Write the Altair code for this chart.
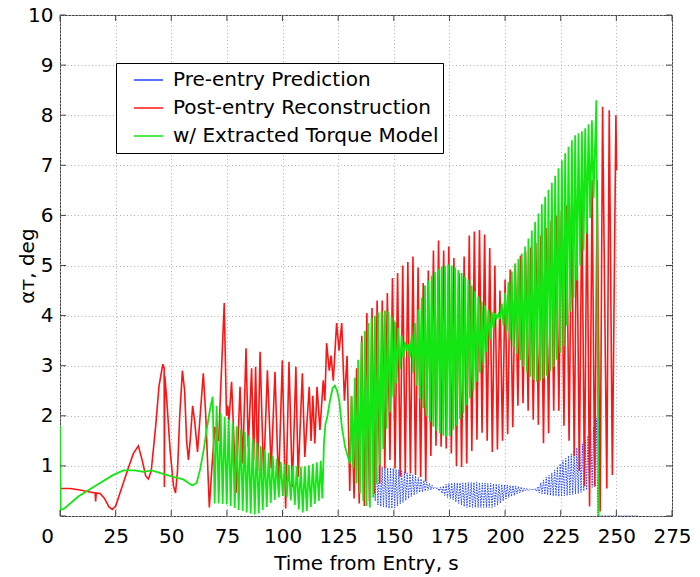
import altair as alt
import pandas as pd

# ---------------- data ----------------
series_names = ["Pre-entry Prediction", "Post-entry Reconstruction", "w/ Extracted Torque Model"]
series_colors = ["#2244ff", "#ff1414", "#14e614"]

x_ticks = [0, 25, 50, 75, 100, 125, 150, 175, 200, 225, 250, 275]
y_ticks = [0, 1, 2, 3, 4, 5, 6, 7, 8, 9, 10]

# --- Post-entry Reconstruction (red) ---
red_early_t = [0.0, 4.5, 9.0, 13.5, 15.8, 16.0, 16.3, 18.0, 20.0, 22.0, 23.5, 25.0, 28.0, 31.0, 33.0,
               35.2, 37.0, 38.5, 39.7, 41.0, 43.0, 44.5, 46.2, 46.8, 46.9, 47.1, 48.0, 49.5, 51.0, 51.9,
               52.8, 53.8, 55.0, 56.0, 56.9, 57.7, 58.5, 59.6, 60.5, 61.8, 62.8, 64.4, 65.5, 67.1]
red_early_v = [0.55, 0.55, 0.52, 0.48, 0.46, 0.29, 0.46, 0.45, 0.35, 0.18, 0.13, 0.2, 0.6, 1.0, 1.25,
               1.4, 1.1, 0.8, 0.74, 0.9, 1.8, 2.6, 3.03, 2.95, 0.58, 2.8, 2.3, 1.3, 0.6, 0.46,
               0.9, 2.0, 2.9, 2.5, 1.5, 1.12, 1.5, 2.2, 1.9, 1.28, 1.9, 2.85, 2.0, 0.17]
red_mid_t = [68.3, 69.6, 70.5, 71.3, 72.0, 73.8, 74.8, 75.4, 75.9, 77.1, 79.1, 80.9, 82.1, 83.6, 84.6,
             86.1, 87.0, 87.9, 88.8, 89.9, 91.5, 93.2, 94.9, 96.6, 98.2, 99.9, 101.4, 102.9, 104.4, 106.0,
             107.0, 108.9, 110.0, 112.0, 112.8, 113.6, 114.5, 115.5, 116.8, 118.3, 119.0, 119.8, 121.0,
             121.8, 122.8, 124.3, 125.4, 126.6, 127.8, 129.0, 130.2]
red_mid_v = [1.0, 1.78, 1.6, 1.5, 2.3, 4.25, 2.0, 2.2, 1.9, 2.68, 0.46, 2.58, 1.05, 3.35, 1.38,
             2.95, 1.1, 2.98, 0.9, 3.28, 0.78, 2.91, 0.95, 2.88, 0.6, 3.11, 0.15, 3.08, 0.58, 2.98,
             0.78, 2.85, 1.18, 2.58, 1.5, 2.4, 1.45, 2.58, 1.72, 2.71, 2.3, 3.45, 2.9,
             3.2, 2.7, 3.85, 3.3, 3.85, 2.3, 3.2, 0.5]
red_peak_t = [131.0, 133.3, 135.6, 137.9, 140.2, 142.5, 144.8, 147.1, 149.4, 151.7, 154.0, 156.3, 158.6,
              160.9, 163.2, 165.5, 167.8, 170.1, 172.4, 174.7, 177.0, 179.3, 181.6, 183.9, 186.2, 188.5,
              190.8, 193.1, 195.4, 197.7, 200.0, 202.3, 204.6, 206.9, 209.2, 211.5, 213.8, 216.1, 218.4,
              220.7, 223.0, 225.3, 227.6, 229.9, 232.2, 234.5, 236.8, 239.1, 241.4]
red_peak_v = [2.38, 2.95, 3.6, 4.05, 4.15, 4.3, 4.3, 4.45, 4.75, 4.85, 5.0, 5.07, 5.18,
              4.96, 4.65, 4.9, 5.3, 5.5, 5.3, 5.38, 5.15, 4.85, 5.18, 5.6, 5.68, 5.71,
              5.62, 5.35, 5.0, 4.5, 4.72, 4.92, 5.04, 5.2, 5.28, 5.36, 5.45, 5.6, 5.75,
              5.9, 6.0, 6.1, 6.2, 6.2, 6.2, 6.37, 6.45, 6.7, 6.7]
red_trough_t = [132.15, 134.45, 136.75, 139.05, 141.35, 143.65, 145.95, 148.25, 150.55, 152.85, 155.15,
                157.45, 159.75, 162.05, 164.35, 166.65, 168.95, 171.25, 173.55, 175.85, 178.15, 180.45,
                182.75, 185.05, 187.35, 189.65, 191.95, 194.25, 196.55, 198.85, 201.15, 203.45, 205.75,
                208.05, 210.35, 212.65, 214.95, 217.25, 219.55, 221.85, 224.15, 226.45, 228.75, 231.05,
                233.35, 235.65, 237.95, 240.25]
red_trough_v = [0.35, 0.25, 0.2, 0.3, 0.45, 0.65, 0.95, 1.12, 0.95, 0.79, 0.85,
                0.85, 0.82, 0.78, 0.69, 1.2, 1.4, 1.38, 1.35, 1.25, 1.0, 0.98,
                1.05, 1.3, 1.52, 1.66, 1.5, 1.28, 1.33, 1.5, 1.63, 1.77, 2.2,
                2.25, 2.1, 1.92, 1.82, 1.45, 1.65, 2.1, 2.1, 1.8, 1.5, 1.2,
                0.9, 0.6, 0.19, 0.59]
red_end_t = [242.7, 243.8, 245.7, 246.8, 248.2, 249.8, 250.1]
red_end_v = [0.09, 8.17, 0.55, 8.1, 0.82, 8.0, 6.9]

# --- w/ Extracted Torque Model (green) ---
green_early_t = [0.0, 0.3, 2.0, 8.2, 16.5, 24.0, 28.5, 33.7, 37.4, 41.2, 46.4, 50.9, 55.4, 59.4, 61.4,
                 62.9, 64.5, 65.9, 67.3]
green_early_v = [1.8, 0.12, 0.15, 0.39, 0.62, 0.82, 0.91, 0.91, 0.88, 0.91, 0.84, 0.78, 0.73, 0.61, 0.66,
                 0.92, 1.3, 1.72, 2.1]
green_p1_t = [68.6, 70.4, 72.2, 74.0, 75.8, 77.6, 79.4, 81.2, 83.0, 84.8, 86.6, 88.4, 90.2, 92.0,
              93.8, 95.6, 97.4, 99.2, 101.0, 102.8, 104.6, 106.4, 108.2, 110.0, 111.8, 113.6, 115.4, 117.2]
green_p1_v = [2.38, 2.2, 2.06, 1.98, 1.93, 1.86, 1.79, 1.73, 1.68, 1.6, 1.53, 1.46, 1.39, 1.32,
              1.26, 1.2, 1.14, 1.08, 1.04, 1.02, 1.0, 0.99, 0.98, 0.99, 1.01, 1.04, 1.07, 1.1]
green_t1_t = [69.5, 71.3, 73.1, 74.9, 76.7, 78.5, 80.3, 82.1, 83.9, 85.7, 87.5, 89.3, 91.1, 92.9,
              94.7, 96.5, 98.3, 100.1, 101.9, 103.7, 105.5, 107.3, 109.1, 110.9, 112.7, 114.5, 116.3, 117.9]
green_t1_v = [0.25, 0.25, 0.24, 0.23, 0.2, 0.16, 0.12, 0.1, 0.07, 0.05, 0.03, 0.05, 0.12, 0.18,
              0.26, 0.32, 0.37, 0.4, 0.38, 0.31, 0.22, 0.13, 0.07, 0.1, 0.18, 0.24, 0.3, 0.35]
green_mid_t = [118.6, 119.3, 120.0, 121.3, 122.5, 123.5, 124.5, 125.5, 126.6, 128.1, 129.6, 130.3]
green_mid_v = [1.45, 1.85, 1.95, 2.3, 2.55, 2.6, 2.5, 2.3, 1.8, 1.38, 1.15, 1.05]
green_p2_t = [131.0, 132.5, 134.0, 135.5, 137.0, 138.5, 140.0, 141.5, 143.0, 144.5, 146.0, 147.5, 149.0,
              150.5, 152.0, 153.5, 155.0, 156.5, 158.0, 159.5, 161.0, 162.5, 164.0, 165.5, 167.0, 168.5,
              170.0, 171.5, 173.0, 174.5, 176.0, 177.5, 179.0, 180.5, 182.0, 183.5, 185.0, 186.5, 188.0,
              189.5, 191.0, 192.5, 194.0, 195.5, 197.0, 198.5, 200.0, 201.5, 203.0, 204.5, 206.0, 207.5,
              209.0, 210.5, 212.0, 213.5, 215.0, 216.5, 218.0, 219.5, 221.0, 222.5, 224.0, 225.5, 227.0,
              228.5, 230.0, 231.5, 233.0, 234.5, 236.0, 237.5, 239.0]
green_p2_v = [2.4, 2.76, 3.12, 3.47, 3.69, 3.85, 3.95, 4.0, 4.06, 4.08, 4.1, 4.08, 3.98,
              3.88, 3.75, 3.6, 3.47, 3.43, 3.62, 3.85, 4.12, 4.36, 4.6, 4.7, 4.8, 4.87,
              4.93, 4.98, 5.0, 5.02, 5.0, 4.96, 4.91, 4.85, 4.78, 4.72, 4.6, 4.49, 4.38,
              4.28, 4.2, 4.12, 4.08, 4.05, 4.03, 4.24, 4.46, 4.67, 4.88, 5.03, 5.13, 5.24,
              5.38, 5.54, 5.7, 5.87, 6.04, 6.22, 6.37, 6.51, 6.65, 6.79, 6.94, 7.1, 7.24,
              7.37, 7.5, 7.6, 7.64, 7.68, 7.74, 7.82, 7.9]
green_t2_t = [131.75, 133.25, 134.75, 136.25, 137.75, 139.25, 140.75, 142.25, 143.75, 145.25, 146.75,
              148.25, 149.75, 151.25, 152.75, 154.25, 155.75, 157.25, 158.75, 160.25, 161.75, 163.25,
              164.75, 166.25, 167.75, 169.25, 170.75, 172.25, 173.75, 175.25, 176.75, 178.25, 179.75,
              181.25, 182.75, 184.25, 185.75, 187.25, 188.75, 190.25, 191.75, 193.25, 194.75, 196.25,
              197.75, 199.25, 200.75, 202.25, 203.75, 205.25, 206.75, 208.25, 209.75, 211.25, 212.75,
              214.25, 215.75, 217.25, 218.75, 220.25, 221.75, 223.25, 224.75, 226.25, 227.75, 229.25,
              230.75, 232.25, 233.75, 235.25, 236.75, 238.25, 239.75]
green_t2_v = [0.95, 0.65, 0.45, 0.3, 0.2, 0.17, 0.37, 0.65, 1.02, 1.34, 1.74,
              2.07, 2.38, 2.65, 2.93, 3.15, 3.34, 3.16, 2.86, 2.6, 2.34, 2.15,
              1.99, 1.88, 1.78, 1.7, 1.65, 1.6, 1.58, 1.6, 1.72, 1.8, 1.93,
              2.05, 2.21, 2.35, 2.5, 2.68, 2.86, 3.05, 3.28, 3.53, 3.74, 3.95,
              3.93, 3.8, 3.67, 3.52, 3.37, 3.24, 3.11, 2.98, 2.87, 2.78, 2.72,
              2.68, 2.7, 2.74, 2.8, 2.89, 2.98, 3.12, 3.26, 3.4, 3.8, 4.08,
              4.35, 4.7, 5.0, 5.3, 5.64, 5.95, 6.35]
green_end_t = [241.0, 242.0]
green_end_v = [8.3, 0.0]

# --- Pre-entry Prediction (blue) ---
blue_peak_t = [141.0, 142.25, 143.5, 144.75, 146.0, 147.25, 148.5, 149.75, 151.0, 152.25, 153.5, 154.75,
               156.0, 157.25, 158.5, 159.75, 161.0, 162.25, 163.5, 164.75, 166.0, 167.25, 168.5, 169.75,
               171.0, 172.25, 173.5, 174.75, 176.0, 177.25, 178.5, 179.75, 181.0, 182.25, 183.5, 184.75,
               186.0, 187.25, 188.5, 189.75, 191.0, 192.25, 193.5, 194.75, 196.0, 197.25, 198.5, 199.75,
               201.0, 202.25, 203.5, 204.75, 206.0, 207.25, 208.5, 209.75, 211.0, 212.25, 213.5, 214.75,
               216.0, 217.25, 218.5, 219.75, 221.0, 222.25, 223.5, 224.75, 226.0, 227.25, 228.5, 229.75,
               231.0, 232.25, 233.5, 234.75, 236.0, 237.25, 238.5, 239.75, 241.0]
blue_peak_v = [1.0, 0.99, 0.98, 0.98, 0.97, 0.96, 0.96, 0.95, 0.93, 0.92, 0.9, 0.88,
               0.86, 0.84, 0.82, 0.8, 0.77, 0.74, 0.71, 0.68, 0.65, 0.61, 0.57, 0.56,
               0.58, 0.6, 0.63, 0.65, 0.66, 0.66, 0.66, 0.66, 0.66, 0.67, 0.67, 0.67,
               0.67, 0.67, 0.67, 0.66, 0.66, 0.65, 0.65, 0.64, 0.64, 0.63, 0.63, 0.62,
               0.62, 0.61, 0.61, 0.6, 0.59, 0.58, 0.56, 0.55, 0.54, 0.53, 0.55, 0.59,
               0.66, 0.72, 0.78, 0.81, 0.86, 0.92, 0.98, 1.04, 1.11, 1.15, 1.2, 1.24,
               1.3, 1.36, 1.42, 1.44, 1.51, 1.6, 1.69, 1.78, 1.95]
blue_trough_t = [141.625, 142.875, 144.125, 145.375, 146.625, 147.875, 149.125, 150.375, 151.625, 152.875,
                 154.125, 155.375, 156.625, 157.875, 159.125, 160.375, 161.625, 162.875, 164.125, 165.375,
                 166.625, 167.875, 169.125, 170.375, 171.625, 172.875, 174.125, 175.375, 176.625, 177.875,
                 179.125, 180.375, 181.625, 182.875, 184.125, 185.375, 186.625, 187.875, 189.125, 190.375,
                 191.625, 192.875, 194.125, 195.375, 196.625, 197.875, 199.125, 200.375, 201.625, 202.875,
                 204.125, 205.375, 206.625, 207.875, 209.125, 210.375, 211.625, 212.875, 214.125, 215.375,
                 216.625, 217.875, 219.125, 220.375, 221.625, 222.875, 224.125, 225.375, 226.625, 227.875,
                 229.125, 230.375, 231.625, 232.875, 234.125, 235.375, 236.625, 237.875, 239.125, 240.375]
blue_trough_v = [0.3, 0.22, 0.19, 0.18, 0.17, 0.15, 0.15, 0.16, 0.2, 0.24,
                 0.27, 0.31, 0.35, 0.39, 0.42, 0.45, 0.47, 0.48, 0.5, 0.51,
                 0.52, 0.54, 0.55, 0.5, 0.45, 0.41, 0.37, 0.35, 0.32, 0.28,
                 0.25, 0.22, 0.19, 0.17, 0.17, 0.17, 0.17, 0.17, 0.17, 0.17,
                 0.17, 0.17, 0.17, 0.19, 0.22, 0.26, 0.3, 0.34, 0.37, 0.39,
                 0.41, 0.44, 0.46, 0.48, 0.5, 0.51, 0.52, 0.52, 0.49, 0.46,
                 0.44, 0.43, 0.42, 0.41, 0.4, 0.4, 0.39, 0.39, 0.4, 0.41,
                 0.42, 0.43, 0.44, 0.45, 0.47, 0.5, 0.52, 0.55, 0.57, 0.58]
blue_end_t = [241.7, 259.7]
blue_end_v = [0.0, 0.0]


# ---------------- build tables ----------------
def pts(ts, vs):
    return list(zip(ts, vs))


def frame(points, name):
    return pd.DataFrame({"t": [p[0] for p in points], "v": [p[1] for p in points],
                         "i": list(range(len(points))), "series": name})


red_pts = (pts(red_early_t, red_early_v) + pts(red_mid_t, red_mid_v)
           + sorted(pts(red_peak_t, red_peak_v) + pts(red_trough_t, red_trough_v))
           + pts(red_end_t, red_end_v))
green_pts = (pts(green_early_t, green_early_v)
             + sorted(pts(green_p1_t, green_p1_v) + pts(green_t1_t, green_t1_v))
             + pts(green_mid_t, green_mid_v)
             + sorted(pts(green_p2_t, green_p2_v) + pts(green_t2_t, green_t2_v))
             + pts(green_end_t, green_end_v))
blue_pts = (sorted(pts(blue_peak_t, blue_peak_v) + pts(blue_trough_t, blue_trough_v))
            + pts(blue_end_t, blue_end_v))

df_blue = frame(blue_pts, series_names[0])
df_red = frame(red_pts, series_names[1])
df_green = frame(green_pts, series_names[2])

FONT = "DejaVu Sans"
W, H = 612, 501

x_enc = alt.X("t:Q", scale=alt.Scale(domain=[0, 275], nice=False, zero=False),
              axis=alt.Axis(values=x_ticks, title="Time from Entry, s",
                            labelOffset={"condition": {"test": "datum.value === 0", "value": -13},
                                         "value": 0},
                            labelFlush=False, labelOverlap=False, labelBound=False,
                            labelPadding=10, titleY=47, titleBaseline="middle"))
y_enc = alt.Y("v:Q", scale=alt.Scale(domain=[0, 10], nice=False),
              axis=alt.Axis(values=y_ticks, title="α\u1d1b, deg",
                            labelExpr="datum.value == 0 ? '' : datum.label",
                            labelFlush=False, labelOverlap=False,
                            labelPadding=7, titleX=-33, titleY=H / 2, titleAngle=270,
                            titleBaseline="middle", titleAlign="center"))
color_enc = alt.Color("series:N",
                      scale=alt.Scale(domain=series_names, range=series_colors),
                      legend=alt.Legend(orient="none", legendX=56, legendY=48, title=None,
                                        symbolType="stroke", symbolSize=841, symbolStrokeWidth=1.5,
                                        symbolDash=[1, 0], symbolOffset=13, labelOffset=9,
                                        labelFont=FONT, labelFontSize=20, labelColor="black",
                                        labelLimit=500,
                                        clipHeight=26, padding=4, fillColor="white",
                                        strokeColor="black"))

blue = alt.Chart(df_blue).mark_line(strokeWidth=1, strokeDash=[1.5, 1.2], clip=True).encode(
    x=x_enc, y=y_enc, color=color_enc, order="i:Q")
red = alt.Chart(df_red).mark_line(strokeWidth=1.6, clip=True).encode(
    x=x_enc, y=y_enc, color=color_enc, order="i:Q")
green = alt.Chart(df_green).mark_line(strokeWidth=1.8, clip=True).encode(
    x=x_enc, y=y_enc, color=color_enc, order="i:Q")

# inward tick marks on all four sides
df_xt = pd.DataFrame({"t": x_ticks})
df_yt = pd.DataFrame({"v": y_ticks})
tick_color = "#444444"
xt_bot = alt.Chart(df_xt).mark_rule(color=tick_color).encode(x=x_enc, y=alt.value(H), y2=alt.value(H - 6))
xt_top = alt.Chart(df_xt).mark_rule(color=tick_color).encode(x=x_enc, y=alt.value(0), y2=alt.value(6))
yt_left = alt.Chart(df_yt).mark_rule(color=tick_color).encode(y=y_enc, x=alt.value(0), x2=alt.value(6))
yt_right = alt.Chart(df_yt).mark_rule(color=tick_color).encode(y=y_enc, x=alt.value(W), x2=alt.value(W - 6))

chart = alt.layer(blue, red, green, xt_bot, xt_top, yt_left, yt_right).properties(
    width=W, height=H,
    autosize=alt.AutoSizeParams(type="none"),
    padding={"left": 60, "top": 15, "right": 28, "bottom": 61},
    background="white",
).configure_view(
    stroke="#444444", strokeWidth=1
).configure_axis(
    domain=False, ticks=False, tickSize=0,
    grid=True, gridColor="#b0b0b0", gridDash=[1, 2.5], gridWidth=1,
    labelFont=FONT, labelFontSize=20, labelColor="black",
    titleFont=FONT, titleFontSize=20, titleColor="black", titleFontWeight="normal",
)

chart.save("out.html", embed_options={"renderer": "svg", "actions": False})
